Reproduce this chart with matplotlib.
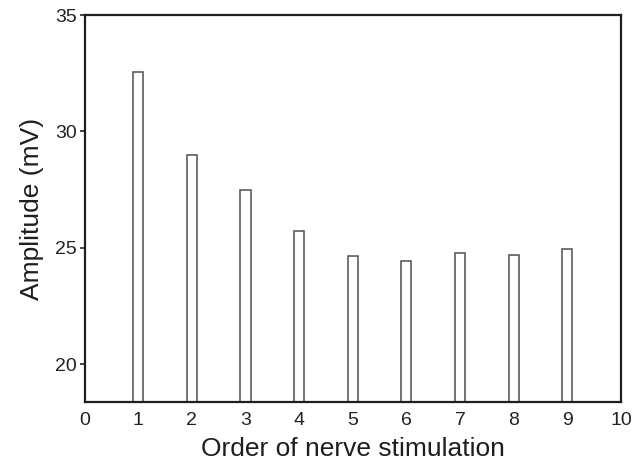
import matplotlib
matplotlib.use("Agg")
import matplotlib.pyplot as plt

order = [1, 2, 3, 4, 5, 6, 7, 8, 9]
amplitude = [32.56, 28.98, 27.5, 25.72, 24.67, 24.42, 24.8, 24.68, 24.97]
xticks = [0, 1, 2, 3, 4, 5, 6, 7, 8, 9, 10]
yticks = [20, 25, 30, 35]

plt.rcParams['font.family'] = ['Liberation Sans', 'DejaVu Sans']

fig = plt.figure(figsize=(6.44, 4.65), dpi=100)
ax = fig.add_axes([84.5/644, 1-402/465, (621-84.5)/644, (402-15)/465])

bottom = 18.38
ax.bar(order, [a - bottom for a in amplitude], bottom=bottom, width=0.19,
       facecolor='white', edgecolor='#505050', linewidth=1.1, zorder=2)

ax.set_xlim(0, 10)
ax.set_ylim(bottom, 35)
ax.set_xticks(xticks)
ax.set_yticks(yticks)
ax.tick_params(axis='x', length=0, pad=7, labelsize=14, colors='#222222')
ax.tick_params(axis='y', length=3.5, width=1.2, pad=2, labelsize=14, colors='#222222', direction='out')
for s in ax.spines.values():
    s.set_linewidth(1.6)
    s.set_color('#1e1e1e')
ax.set_xlabel('Order of nerve stimulation', fontsize=19, color='#1e1e1e', labelpad=6)
ax.set_ylabel('Amplitude (mV)', fontsize=19, color='#1e1e1e', labelpad=8)

fig.savefig('out.png', dpi=100)
